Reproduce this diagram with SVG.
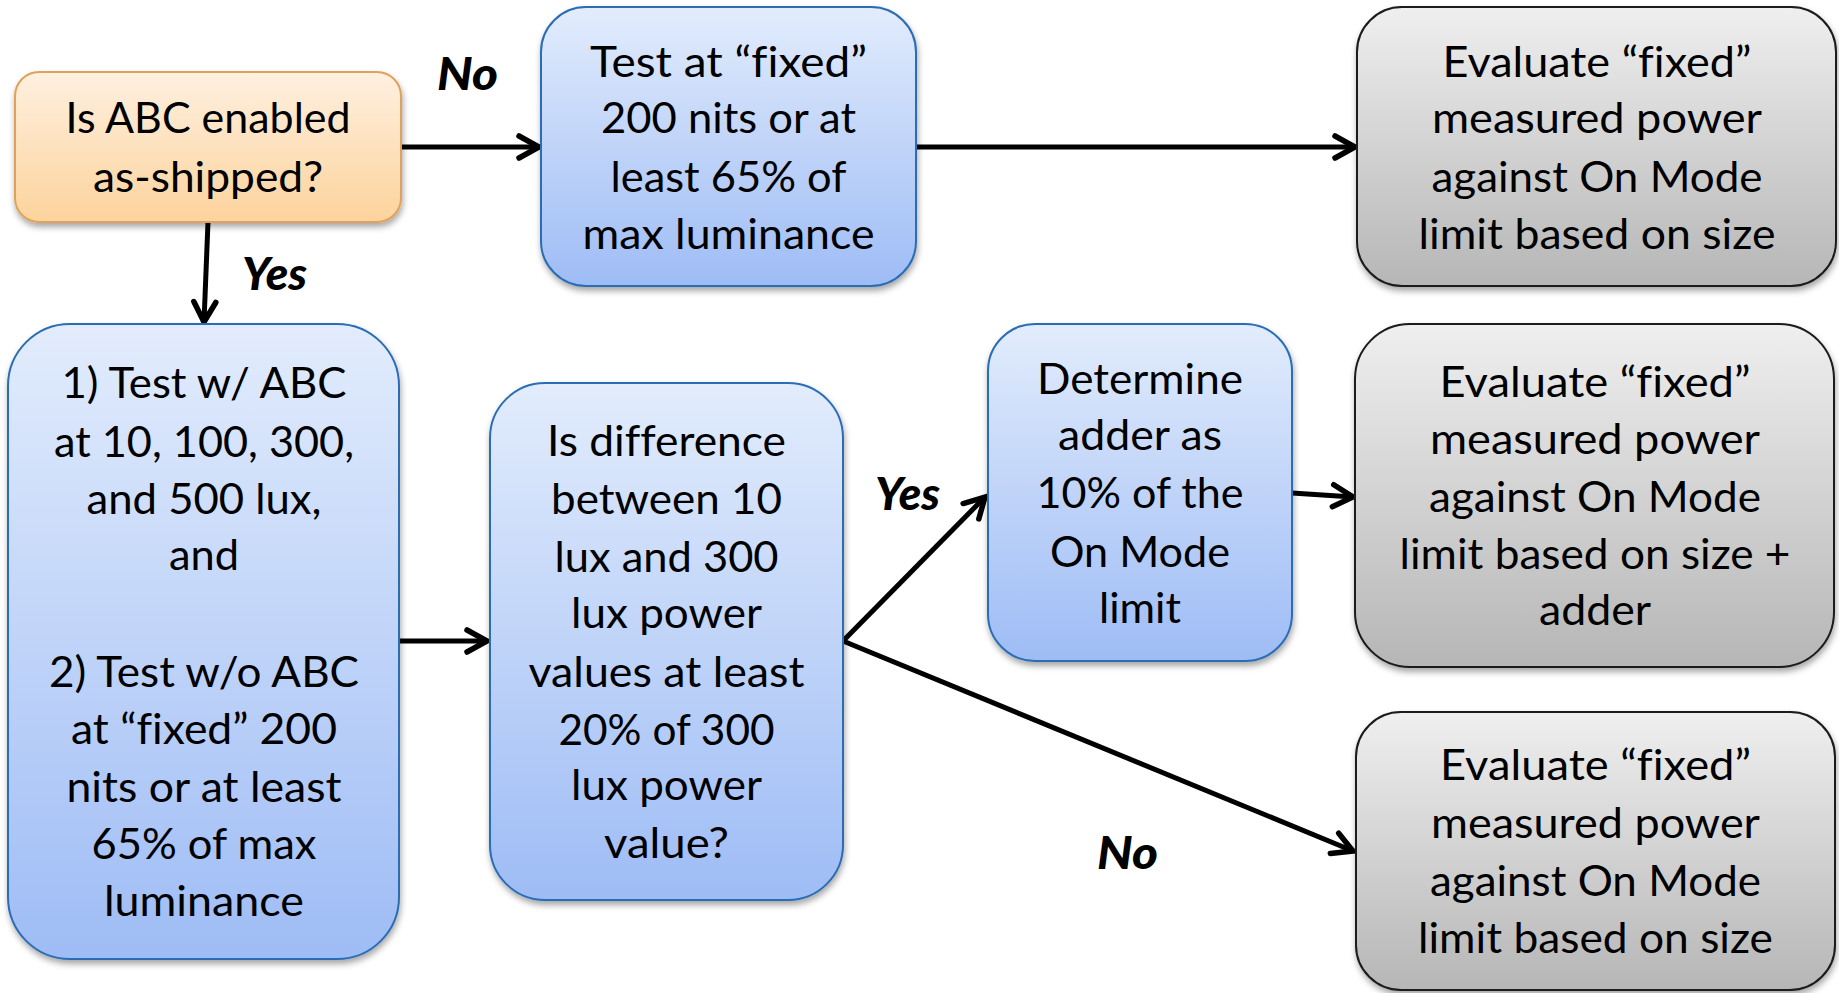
<svg xmlns="http://www.w3.org/2000/svg" width="1839" height="993" viewBox="0 0 1839 993">
<style>
.t{font-family:Lato,"Liberation Sans",sans-serif;font-size:42px;fill:#000;text-anchor:middle;font-variant-ligatures:none;font-feature-settings:"liga" 0}
.lb{font-family:Lato,"Liberation Sans",sans-serif;font-size:46px;font-weight:900;font-style:italic;fill:#000;text-anchor:middle}
.blue{fill:url(#gBlue);stroke:#2a6db5;stroke-width:2}
.orange{fill:url(#gOrange);stroke:#e0a25a;stroke-width:2}
.gray{fill:url(#gGray);stroke:#1a1a1a;stroke-width:2}
.c{fill:none;stroke:#000;stroke-width:5;marker-end:url(#arr)}
</style>
<defs>
<linearGradient id="gBlue" x1="0" y1="0" x2="0" y2="1"><stop offset="0" stop-color="#e2ecfc"/><stop offset="1" stop-color="#9ebcf5"/></linearGradient>
<linearGradient id="gOrange" x1="0" y1="0" x2="0" y2="1"><stop offset="0" stop-color="#fff0e0"/><stop offset="1" stop-color="#fcd39c"/></linearGradient>
<linearGradient id="gGray" x1="0" y1="0" x2="0" y2="1"><stop offset="0" stop-color="#efefef"/><stop offset="1" stop-color="#b6b6b6"/></linearGradient>
<filter id="sh" x="-10%" y="-10%" width="120%" height="125%"><feDropShadow dx="1" dy="4" stdDeviation="3" flood-color="#000" flood-opacity="0.35"/></filter>
<marker id="arr" markerUnits="userSpaceOnUse" viewBox="-26 -16 32 32" markerWidth="32" markerHeight="32" refX="0" refY="0" orient="auto"><path d="M-20,-11 L0,0 L-20,11" fill="none" stroke="#000" stroke-width="5.5" stroke-linecap="round"/></marker>
</defs>

<g id="connectors">
<line class="c" x1="401" y1="147" x2="539" y2="147"/>
<line class="c" x1="916" y1="147" x2="1355" y2="147"/>
<line class="c" x1="208" y1="222" x2="204" y2="322"/>
<line class="c" x1="399" y1="641" x2="487" y2="641"/>
<line class="c" x1="843" y1="641" x2="985" y2="497"/>
<line class="c" x1="1292" y1="493" x2="1353" y2="497"/>
<line class="c" x1="843" y1="641" x2="1353" y2="851"/>
<text class="lb" x="467.5" y="90" textLength="61" lengthAdjust="spacingAndGlyphs">No</text>
<text class="lb" x="274.5" y="290" textLength="65" lengthAdjust="spacingAndGlyphs">Yes</text>
<text class="lb" x="907.5" y="510" textLength="65" lengthAdjust="spacingAndGlyphs">Yes</text>
<text class="lb" x="1127.5" y="869" textLength="61" lengthAdjust="spacingAndGlyphs">No</text>
</g>

<g id="n-abc">
<rect class="orange" filter="url(#sh)" x="15" y="72" width="386" height="150" rx="24"/>
<text class="t" x="208" y="133" textLength="285" lengthAdjust="spacingAndGlyphs">Is ABC enabled</text>
<text class="t" x="208" y="192" textLength="230" lengthAdjust="spacingAndGlyphs">as-shipped?</text>
</g>

<g id="n-test-fixed">
<rect class="blue" filter="url(#sh)" x="541" y="7" width="375" height="279" rx="45"/>
<text class="t" x="728.5" y="77" textLength="277" lengthAdjust="spacingAndGlyphs">Test at “fixed”</text>
<text class="t" x="728.5" y="133" textLength="255" lengthAdjust="spacingAndGlyphs">200 nits or at</text>
<text class="t" x="728.5" y="192" textLength="236" lengthAdjust="spacingAndGlyphs">least 65% of</text>
<text class="t" x="728.5" y="249" textLength="292" lengthAdjust="spacingAndGlyphs">max luminance</text>
</g>

<g id="n-eval-top">
<rect class="gray" filter="url(#sh)" x="1357" y="7" width="479" height="279" rx="45"/>
<text class="t" x="1597" y="77" textLength="309" lengthAdjust="spacingAndGlyphs">Evaluate “fixed”</text>
<text class="t" x="1597" y="133" textLength="330" lengthAdjust="spacingAndGlyphs">measured power</text>
<text class="t" x="1597" y="192" textLength="331" lengthAdjust="spacingAndGlyphs">against On Mode</text>
<text class="t" x="1597" y="249" textLength="357" lengthAdjust="spacingAndGlyphs">limit based on size</text>
</g>

<g id="n-test-abc">
<rect class="blue" filter="url(#sh)" x="8" y="324" width="391" height="635" rx="62"/>
<text class="t" x="204" y="398" textLength="285" lengthAdjust="spacingAndGlyphs">1) Test w/ ABC</text>
<text class="t" x="204" y="457" textLength="300" lengthAdjust="spacingAndGlyphs">at 10, 100, 300,</text>
<text class="t" x="204" y="514" textLength="235" lengthAdjust="spacingAndGlyphs">and 500 lux,</text>
<text class="t" x="204" y="570" textLength="70" lengthAdjust="spacingAndGlyphs">and</text>
<text class="t" x="204" y="687" textLength="310" lengthAdjust="spacingAndGlyphs">2) Test w/o ABC</text>
<text class="t" x="204" y="744" textLength="266" lengthAdjust="spacingAndGlyphs">at “fixed” 200</text>
<text class="t" x="204" y="802" textLength="275" lengthAdjust="spacingAndGlyphs">nits or at least</text>
<text class="t" x="204" y="859" textLength="225" lengthAdjust="spacingAndGlyphs">65% of max</text>
<text class="t" x="204" y="916" textLength="200" lengthAdjust="spacingAndGlyphs">luminance</text>
</g>

<g id="n-difference">
<rect class="blue" filter="url(#sh)" x="490" y="383" width="353" height="517" rx="55"/>
<text class="t" x="666.5" y="456" textLength="239" lengthAdjust="spacingAndGlyphs">Is difference</text>
<text class="t" x="666.5" y="514" textLength="231" lengthAdjust="spacingAndGlyphs">between 10</text>
<text class="t" x="666.5" y="572" textLength="224" lengthAdjust="spacingAndGlyphs">lux and 300</text>
<text class="t" x="666.5" y="628" textLength="191" lengthAdjust="spacingAndGlyphs">lux power</text>
<text class="t" x="666.5" y="687" textLength="276" lengthAdjust="spacingAndGlyphs">values at least</text>
<text class="t" x="666.5" y="745" textLength="216" lengthAdjust="spacingAndGlyphs">20% of 300</text>
<text class="t" x="666.5" y="800" textLength="191" lengthAdjust="spacingAndGlyphs">lux power</text>
<text class="t" x="666.5" y="858" textLength="125" lengthAdjust="spacingAndGlyphs">value?</text>
</g>

<g id="n-adder">
<rect class="blue" filter="url(#sh)" x="988" y="324" width="304" height="337" rx="47"/>
<text class="t" x="1140" y="394" textLength="206" lengthAdjust="spacingAndGlyphs">Determine</text>
<text class="t" x="1140" y="450" textLength="164" lengthAdjust="spacingAndGlyphs">adder as</text>
<text class="t" x="1140" y="508" textLength="207" lengthAdjust="spacingAndGlyphs">10% of the</text>
<text class="t" x="1140" y="567" textLength="180" lengthAdjust="spacingAndGlyphs">On Mode</text>
<text class="t" x="1140" y="623" textLength="82" lengthAdjust="spacingAndGlyphs">limit</text>
</g>

<g id="n-eval-adder">
<rect class="gray" filter="url(#sh)" x="1355" y="324" width="479" height="343" rx="55"/>
<text class="t" x="1595" y="397" textLength="311" lengthAdjust="spacingAndGlyphs">Evaluate “fixed”</text>
<text class="t" x="1595" y="454" textLength="330" lengthAdjust="spacingAndGlyphs">measured power</text>
<text class="t" x="1595" y="512" textLength="332" lengthAdjust="spacingAndGlyphs">against On Mode</text>
<text class="t" x="1595" y="569" textLength="391" lengthAdjust="spacingAndGlyphs">limit based on size +</text>
<text class="t" x="1595" y="625" textLength="112" lengthAdjust="spacingAndGlyphs">adder</text>
</g>

<g id="n-eval-bottom">
<rect class="gray" filter="url(#sh)" x="1356" y="712" width="479" height="278" rx="45"/>
<text class="t" x="1595.5" y="780" textLength="311" lengthAdjust="spacingAndGlyphs">Evaluate “fixed”</text>
<text class="t" x="1595.5" y="838" textLength="329" lengthAdjust="spacingAndGlyphs">measured power</text>
<text class="t" x="1595.5" y="896" textLength="331" lengthAdjust="spacingAndGlyphs">against On Mode</text>
<text class="t" x="1595.5" y="953" textLength="355" lengthAdjust="spacingAndGlyphs">limit based on size</text>
</g>
</svg>
